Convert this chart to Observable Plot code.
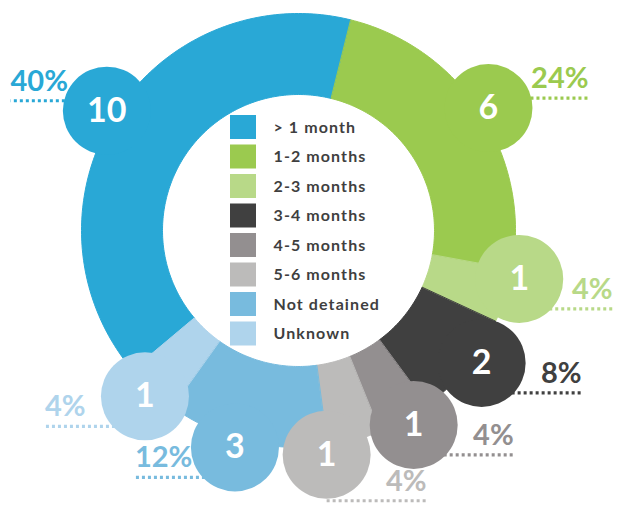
<!DOCTYPE html>
<html><head><meta charset="utf-8">
<script src="https://cdn.jsdelivr.net/npm/d3@7"></script>
<script src="https://cdn.jsdelivr.net/npm/@observablehq/plot@0.6"></script>
<style>html,body{margin:0;padding:0;background:#fff;}</style>
</head><body><div id="chart"></div>
<script>
// ---- data ----
const categories = ["> 1 month","1-2 months","2-3 months","3-4 months","4-5 months","5-6 months","Not detained","Unknown"];
const counts = [10, 6, 1, 2, 1, 1, 3, 1];
const percentLabels = ["40%","24%","4%","8%","4%","4%","12%","4%"];
const colors = ["#29a8d6","#9bca4f","#b8d988","#404040","#938f90","#bcbbba","#78bbde","#afd4ec"];

// ---- layout constants ----
const W = 624, H = 528, CX = 298, CY = 230;
const R_OUT = 217, R_IN = 136, START = -130 * Math.PI / 180;
const R_B = 226, RB = 44, GAP = 4, LINE_LEN = 100, FS_P = 29;

const arcs = d3.pie().sort(null).startAngle(START).endAngle(START + 2 * Math.PI)(counts);

// ring polygons
const ringPts = [];
arcs.forEach((a, i) => {
  const n = Math.max(8, Math.ceil((a.endAngle - a.startAngle) / (Math.PI / 180)));
  for (let k = 0; k <= n; k++) {
    const t = a.startAngle + (a.endAngle - a.startAngle) * k / n;
    ringPts.push({cat: categories[i], x: R_OUT * Math.sin(t), y: -R_OUT * Math.cos(t)});
  }
  for (let k = n; k >= 0; k--) {
    const t = a.startAngle + (a.endAngle - a.startAngle) * k / n;
    ringPts.push({cat: categories[i], x: R_IN * Math.sin(t), y: -R_IN * Math.cos(t)});
  }
});

// bubbles: start at slice mid-angle, relax to avoid overlaps
const ang = arcs.map(a => (a.startAngle + a.endAngle) / 2);
const need = 2 * RB + GAP, needAng = 2 * Math.asin(need / (2 * R_B));
for (let it = 0; it < 400; it++) {
  for (let i = 0; i < ang.length; i++) for (let j = i + 1; j < ang.length; j++) {
    let d = ang[j] - ang[i];
    d = Math.atan2(Math.sin(d), Math.cos(d));
    if (Math.abs(d) < needAng) {
      const push = (needAng - Math.abs(d)) / 4;
      const s = d >= 0 ? 1 : -1;
      ang[i] -= s * push; ang[j] += s * push;
    }
  }
}
const bubbles = categories.map((c, i) => ({
  cat: c, count: counts[i], pct: percentLabels[i], a: ang[i],
  x: R_B * Math.sin(ang[i]), y: -R_B * Math.cos(ang[i])
}));

// label placement with simple collision check
const textW = s => (s.length - 1) * 0.58 * FS_P + 0.82 * FS_P;
const xMin = -CX + 10, xMax = W - CX - 12;
function boxHitsCircle(bx0, bx1, by0, by1, c) {
  const px = Math.max(bx0, Math.min(c.x, bx1)), py = Math.max(by0, Math.min(c.y, by1));
  return Math.hypot(px - c.x, py - c.y) < RB - 1;
}
const labels = bubbles.map((b, i) => {
  const right = Math.sin(b.a) >= 0;
  const above = b.y < 0;
  const offs = above ? [-10] : [30, RB + 2];
  let chosen = null;
  for (const off of offs) {
    const ly = b.y + off;
    const outer = Math.max(xMin, Math.min(xMax, b.x + (right ? 1 : -1) * LINE_LEN));
    const w = textW(b.pct);
    const bx0 = right ? outer - w : outer, bx1 = right ? outer : outer + w;
    const by1 = ly - 10, by0 = by1 - 0.72 * FS_P;
    const hit = bubbles.some((o, j) => j !== i && boxHitsCircle(bx0, bx1, by0, by1, o));
    const cand = {cat: b.cat, pct: b.pct, right, x1: b.x, x2: outer, ly, ty: by1};
    if (!chosen) chosen = cand;
    if (!hit) { chosen = cand; break; }
  }
  return chosen;
});

// legend rows
const legendRows = categories.map((c, i) => ({cat: c, y1: -115 + i * 29.5, y2: -115 + i * 29.5 + 24}));

const plot = Plot.plot({
  width: W, height: H, margin: 0,
  x: {domain: [-CX, W - CX], range: [0, W], axis: null},
  y: {domain: [-CY, H - CY], range: [0, H], axis: null},
  color: {domain: categories, range: colors},
  style: {fontFamily: "Lato, 'Open Sans', sans-serif", background: "white", overflow: "visible"},
  marks: [
    Plot.link(labels, {x1: "x1", y1: "ly", x2: "x2", y2: "ly", stroke: "cat", strokeWidth: 3.2, strokeDasharray: "3,3"}),
    Plot.line(ringPts, {x: "x", y: "y", z: "cat", fill: "cat", stroke: "cat", strokeWidth: 1, curve: "linear-closed"}),
    Plot.dot(bubbles, {x: "x", y: "y", r: RB, fill: "cat"}),
    Plot.text(bubbles, {x: "x", y: "y", text: d => String(d.count), fill: "white", fontSize: 34, fontWeight: "bold", lineAnchor: "middle"}),
    Plot.text(labels.filter(d => d.right), {x: "x2", y: "ty", text: "pct", fill: "cat", fontSize: FS_P, fontWeight: "bold", textAnchor: "end", lineAnchor: "bottom"}),
    Plot.text(labels.filter(d => !d.right), {x: "x2", y: "ty", text: "pct", fill: "cat", fontSize: FS_P, fontWeight: "bold", textAnchor: "start", lineAnchor: "bottom"}),
    Plot.rect(legendRows, {x1: -68, x2: -42, y1: "y1", y2: "y2", fill: "cat"}),
    Plot.text(legendRows, {x: -25, y: d => (d.y1 + d.y2) / 2, text: "cat", fill: "#3f3f3f", fontSize: 16, fontWeight: "bold", textAnchor: "start", lineAnchor: "middle"})
  ]
});
d3.select(plot).selectAll("text").filter(function() { return categories.includes(this.textContent); }).attr("letter-spacing", "1.1px");
document.getElementById("chart").append(plot);
</script></body></html>
